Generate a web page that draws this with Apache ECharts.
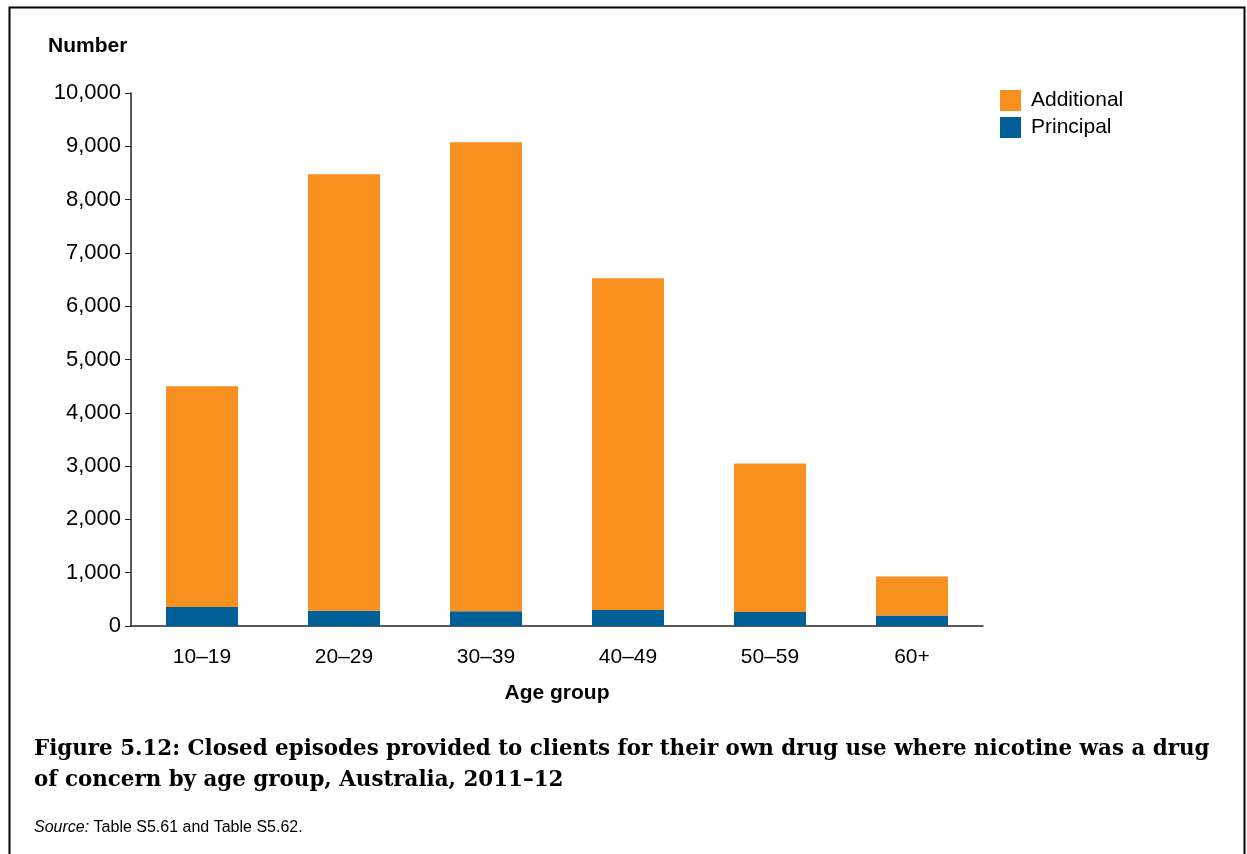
<!DOCTYPE html>
<html>
<head>
<meta charset="utf-8">
<script src="https://cdn.jsdelivr.net/npm/echarts@6/dist/echarts.min.js"></script>
<style>
html,body{margin:0;padding:0;background:#fff;}
#chart{width:1247px;height:854px;}
</style>
</head>
<body>
<div id="chart"></div>
<script>
const categories = ['10–19', '20–29', '30–39', '40–49', '50–59', '60+'];
const principal = [355, 287, 276, 300, 263, 199];
const additional = [4145, 8190, 8800, 6225, 2787, 731];
const yTicks = [0, 1000, 2000, 3000, 4000, 5000, 6000, 7000, 8000, 9000, 10000];

const chart = echarts.init(document.getElementById('chart'), null, {renderer: 'canvas'});
const font = 'Liberation Sans, Arial, sans-serif';
chart.setOption({
  animation: false,
  grid: {left: 131, right: 264, top: 93, bottom: 228, containLabel: false},
  legend: {
    data: ['Additional', 'Principal'],
    orient: 'vertical',
    left: 1000, top: 90, padding: 0,
    itemWidth: 21, itemHeight: 21, itemGap: 6,
    icon: 'rect',
    textStyle: {fontFamily: font, fontSize: 21, color: '#000', padding: [3,0,0,5]}
  },
  xAxis: {
    type: 'category',
    data: categories,
    axisLine: {lineStyle: {color: '#222', width: 1.5}},
    axisTick: {show: false},
    axisLabel: {fontFamily: font, fontSize: 21, color: '#000', margin: 21},
    name: 'Age group',
    nameLocation: 'middle',
    nameGap: 57,
    nameTextStyle: {fontFamily: font, fontSize: 21, fontWeight: 'bold', color: '#000'}
  },
  yAxis: {
    type: 'value',
    min: 0, max: 10000, interval: 1000,
    axisLine: {show: true, lineStyle: {color: '#222', width: 1.5}},
    axisTick: {show: true, length: 6, lineStyle: {color: '#222'}},
    splitLine: {show: false},
    axisLabel: {fontFamily: font, fontSize: 22, color: '#000', margin: 10,
      formatter: v => yTicks.includes(v) ? v.toLocaleString('en-US') : ''}
  },
  series: [
    {name: 'Principal', type: 'bar', stack: 'a', data: principal, barWidth: 72,
     itemStyle: {color: '#005F96'}},
    {name: 'Additional', type: 'bar', stack: 'a', data: additional, barWidth: 72,
     itemStyle: {color: '#F7901E'}}
  ],
  graphic: [
    {type: 'rect', shape: {x: 9.5, y: 7.5, width: 1235, height: 900}, style: {fill: null, stroke: '#000', lineWidth: 2}, silent: true},
    {type: 'text', left: 48, top: 36, style: {text: 'Number', font: 'bold 21px Liberation Sans, Arial, sans-serif', fill: '#000'}},
    {type: 'text', left: 34, top: 734, style: {text: 'Figure 5.12: Closed episodes provided to clients for their own drug use where nicotine was a drug\nof concern by age group, Australia, 2011–12', font: 'bold 21.4px DejaVu Serif, serif', fill: '#000', lineHeight: 31}},
    {type: 'text', left: 34, top: 820, style: {rich: {i: {fontStyle: 'italic', fontFamily: font, fontSize: 16, fill: '#000'}, n: {fontFamily: font, fontSize: 16, fill: '#000'}}, text: '{i|Source:}{n| Table S5.61 and Table S5.62.}'}}
  ]
});
</script>
</body>
</html>
